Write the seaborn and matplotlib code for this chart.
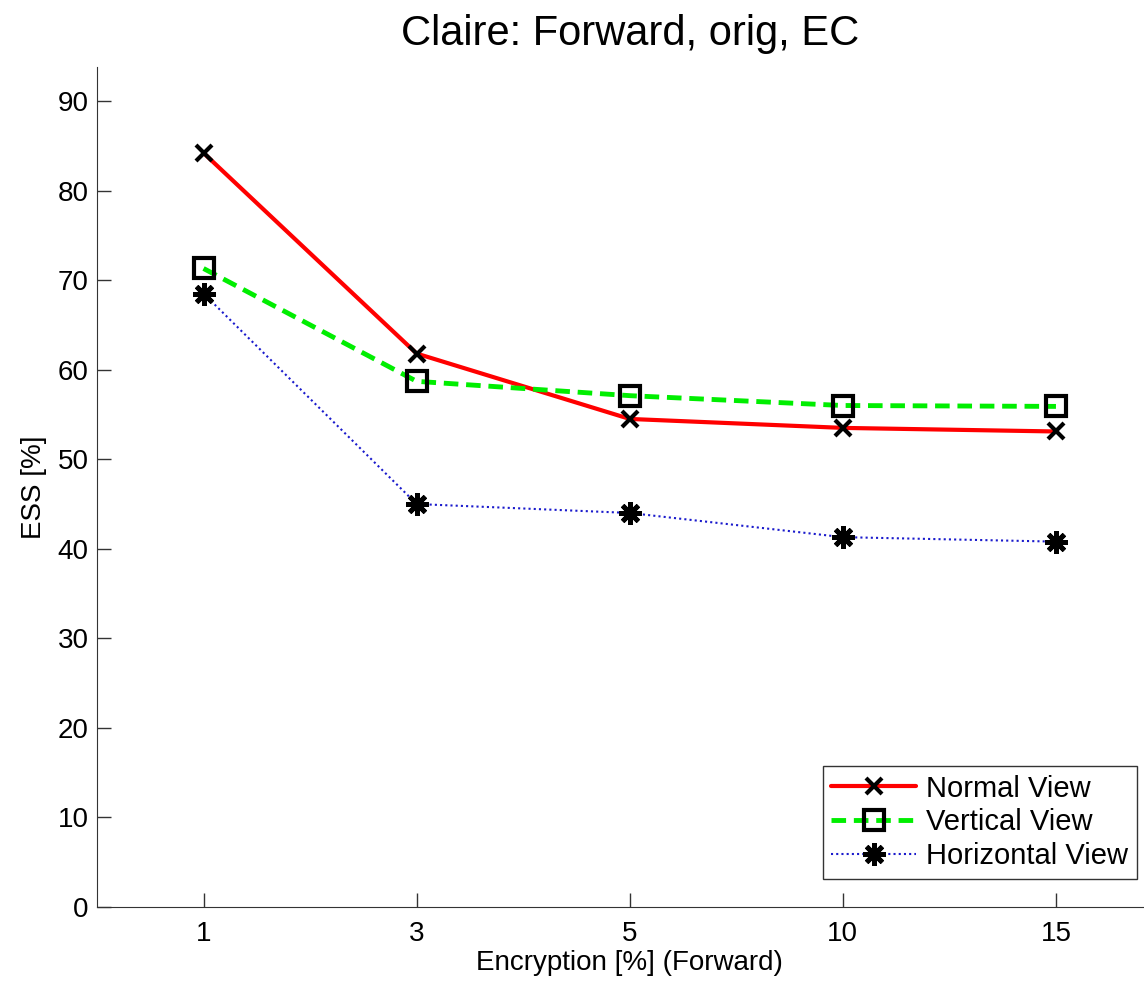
import matplotlib
matplotlib.use("Agg")
import matplotlib.pyplot as plt
import seaborn as sns

# --------------------------------------------------------------
# Data
# --------------------------------------------------------------
encryption = ["1", "3", "5", "10", "15"]
normal_view = [84.2, 61.8, 54.5, 53.5, 53.1]
vertical_view = [71.3, 58.7, 57.1, 56.0, 55.9]
horizontal_view = [68.5, 45.0, 44.0, 41.3, 40.8]

sns.set_style("ticks")
plt.rcParams["font.family"] = ["Liberation Sans", "DejaVu Sans"]
plt.rcParams["text.color"] = "black"
plt.rcParams["axes.labelcolor"] = "black"

fig = plt.figure(figsize=(11.44, 9.82), dpi=100)
# axes right edge runs past the figure like the original screenshot
ax = fig.add_axes([97 / 1144, 75 / 982, 1065.5 / 1144, 840 / 982])

sns.lineplot(x=encryption, y=normal_view, ax=ax, color="#ff0000", linewidth=3,
             marker="x", markersize=12, markeredgewidth=3, markeredgecolor="black",
             label="Normal View", sort=False)
sns.lineplot(x=encryption, y=vertical_view, ax=ax, color="#00ee00", linewidth=3.5,
             linestyle=(0, (3, 1.6)), marker="s", markersize=14, markeredgewidth=3,
             markeredgecolor="black", markerfacecolor="none",
             label="Vertical View", sort=False)
sns.lineplot(x=encryption, y=horizontal_view, ax=ax, color="#1a1acc", linewidth=1.5,
             linestyle=(0, (1, 1.5)), marker=(8, 2, 0), markersize=16, markeredgewidth=3.5,
             markeredgecolor="black", markerfacecolor="black",
             label="Horizontal View", sort=False)

ax.set_xlim(-0.5, 4.5)
ax.set_ylim(0, 93.8)
ax.set_yticks(range(0, 91, 10))
ax.tick_params(direction="in", length=10, width=1, labelsize=20, colors="#333333",
               labelcolor="black")
ax.tick_params(axis="y", pad=6)
ax.tick_params(axis="x", pad=10)
for side in ["top", "right"]:
    ax.spines[side].set_visible(False)
for side in ["left", "bottom"]:
    ax.spines[side].set_color("#333333")

ax.set_title("Claire: Forward, orig, EC", fontsize=30, pad=16)
ax.set_xlabel("Encryption [%] (Forward)", fontsize=20, labelpad=2)
ax.set_ylabel("ESS [%]", fontsize=20, labelpad=8)

leg = ax.legend(loc="lower right", bbox_to_anchor=(1137 / 1144, 103 / 982),
                bbox_transform=fig.transFigure, borderaxespad=0, fontsize=21,
                fancybox=False, framealpha=1, edgecolor="#333333",
                handlelength=2.9, handletextpad=0.35, labelspacing=0.2,
                borderpad=0.3)
leg.get_frame().set_linewidth(1)

fig.savefig("out.png", dpi=100)
